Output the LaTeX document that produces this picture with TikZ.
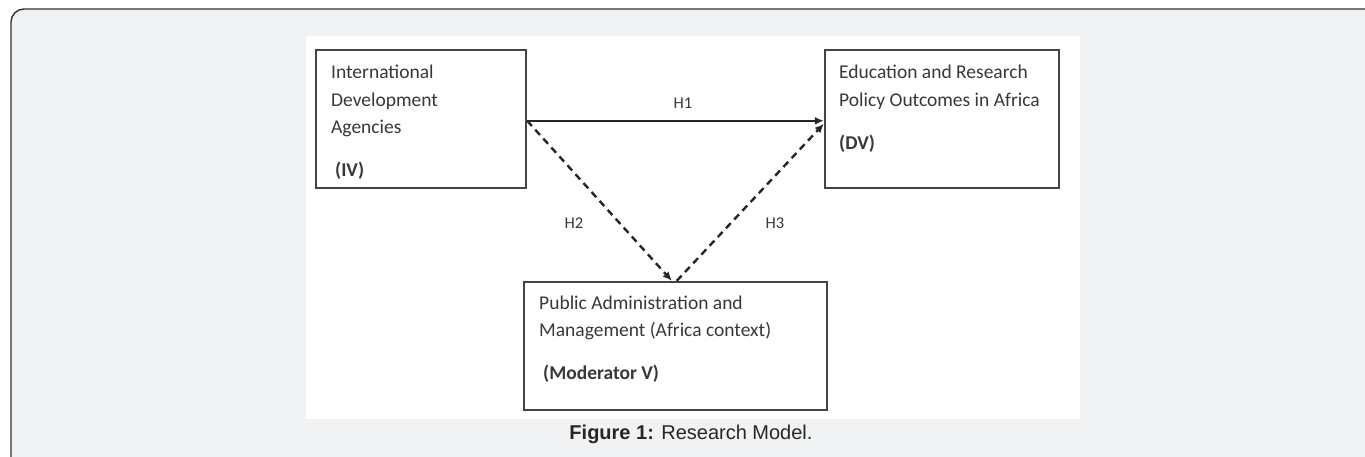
\documentclass[tikz,border=0pt]{standalone}
\usepackage{fontspec}
\setmainfont{Carlito}
\newfontfamily\capfont{Liberation Sans}
\usetikzlibrary{arrows.meta,calc}
\definecolor{panel}{HTML}{F0F2F4}
\definecolor{frameline}{HTML}{333333}
\definecolor{boxline}{HTML}{444444}
\definecolor{ink}{HTML}{383838}
\tikzset{
  varbox/.style={draw=boxline,line width=2.4pt,fill=white,minimum width=#1,inner sep=0pt},
  bodytext/.style={anchor=base west,inner sep=0pt,text=ink,font=\fontsize{19.5}{21}\selectfont},
  hlabel/.style={inner sep=0pt,text=ink,font=\fontsize{16.5}{18}\selectfont},
  link/.style={draw=black!85,line width=2.4pt,-{Latex[length=9pt,width=8pt]}},
  dlink/.style={link,dash pattern=on 7pt off 5pt}
}
\begin{document}
\begin{tikzpicture}[x=1pt,y=-1pt]
  \useasboundingbox (0,0) rectangle (1365,456);
  \begin{scope}
    \clip (0,0) rectangle (1365,456);
    \fill[white] (0,0) rectangle (1365,456);
    \draw[frameline,fill=panel,line width=1.4pt,rounded corners=13pt] (11,9) rectangle (1380,470);
  \end{scope}
  % white figure area
  \fill[white] (306,36) rectangle (1080,419);

  % variable boxes
  \node[varbox=210pt,minimum height=138pt] (IV) at (421,119) {};
  \node[varbox=234pt,minimum height=138pt] (DV) at (942,119) {};
  \node[varbox=303pt,minimum height=128pt] (MOD) at (675.5,346) {};

  % box texts
  \node[bodytext] (iv1) at (331,78) {International};
  \node[bodytext] (iv2) at (331,106) {Development};
  \node[bodytext] (iv3) at (331,133) {Agencies};
  \node[bodytext] (iv4) at (335,176) {\bfseries (IV)};

  \node[bodytext] (dv1) at (839,78) {Education and Research};
  \node[bodytext] (dv2) at (839,106) {Policy Outcomes in Africa};
  \node[bodytext] (dv3) at (839,149) {\bfseries (DV)};

  \node[bodytext] (m1) at (539,309) {Public Administration and};
  \node[bodytext] (m2) at (539,336) {Management (Africa context)};
  \node[bodytext] (m3) at (543,379) {\bfseries (Moderator V)};

  % hypothesised paths
  \draw[link] ($(IV.north east)+(0,72)$) -- ($(DV.north west)+(0,72)$);
  \draw[dlink] ($(IV.north east)+(0,72)$) -- ($(MOD.north west)+(149,0)$);
  \draw[dlink] ($(MOD.north west)+(154,0)$) -- ($(DV.north west)+(0,75)$);

  \node[hlabel] (h1) at (683,103) {H1};
  \node[hlabel] (h2) at (574,223) {H2};
  \node[hlabel] (h3) at (775,223) {H3};

  % caption
  \node[inner sep=0pt,text=black!85,font=\capfont\fontsize{20}{22}\selectfont] (cap) at (691,434)
    {\textbf{Figure 1:} Research Model.};
\end{tikzpicture}
\end{document}
